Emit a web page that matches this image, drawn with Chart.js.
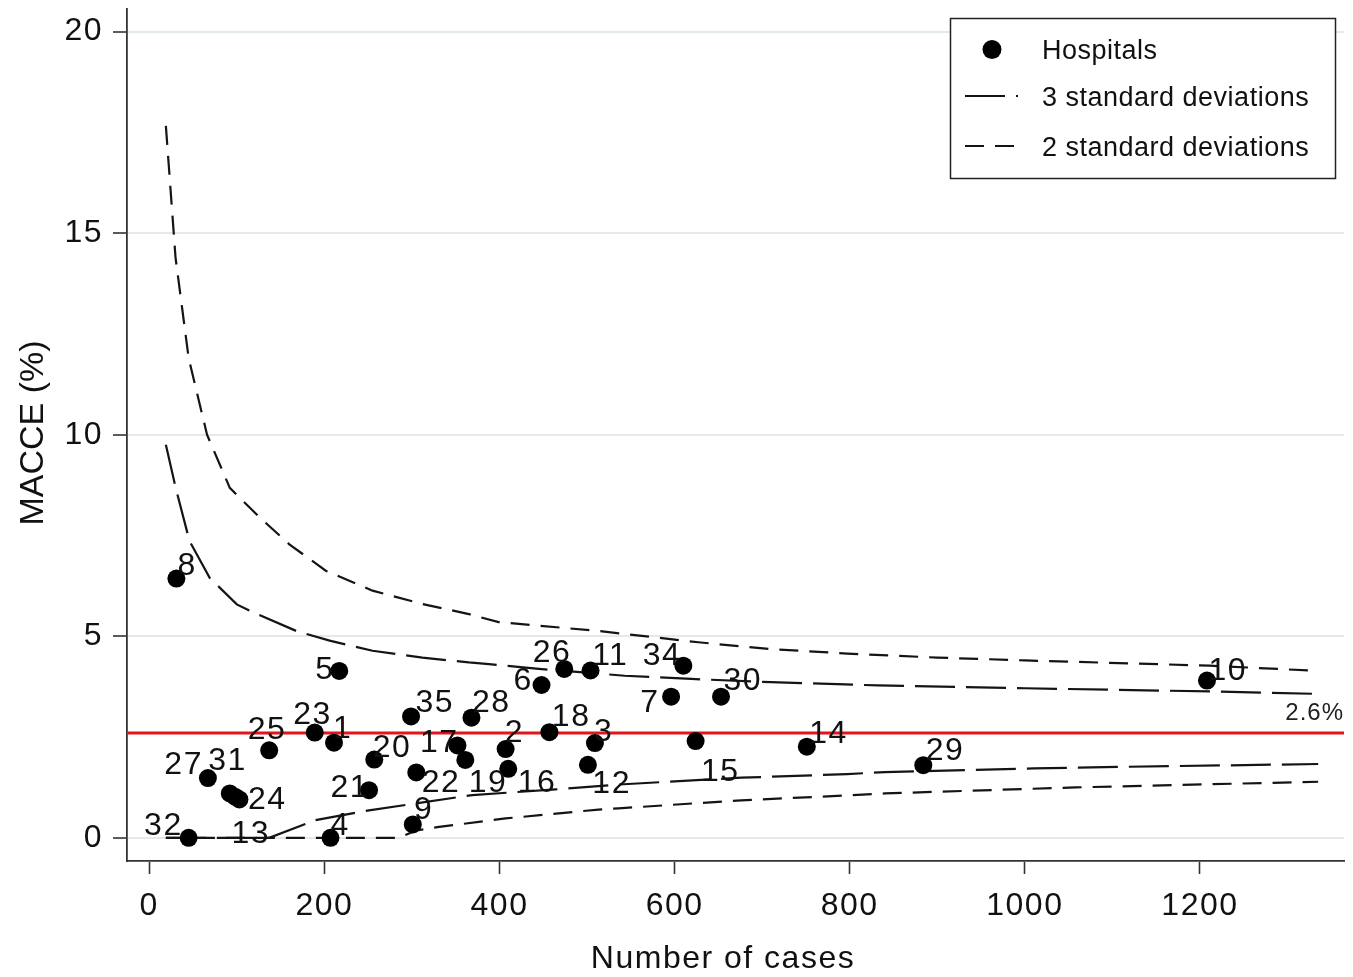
<!DOCTYPE html>
<html>
<head>
<meta charset="utf-8">
<title>MACCE funnel plot</title>
<script src="https://cdn.jsdelivr.net/npm/chart.js@4.4.1/dist/chart.umd.min.js"></script>
<style>
  html, body { margin: 0; padding: 0; background: #ffffff; }
  canvas { display: block; }
</style>
</head>
<body>
<canvas id="funnel" width="1353" height="977"></canvas>
<script>
// ---- Hospital results: number of cases and MACCE rate (%) ----
const hospitalIds   = [1, 2, 3, 4, 5, 6, 7, 8, 9, 10, 11, 12, 13, 14, 15, 16, 17, 18,
                       19, 20, 21, 22, 23, 24, 25, 26, 27, 28, 29, 30, 31, 32, 34, 35];
const hospitalCases = [211, 407, 509, 207, 217, 448, 596, 31, 301, 1208, 504, 501, 98, 751, 624, 410, 352, 457,
                       361, 257, 251, 305, 189, 103, 137, 474, 67, 368, 884, 653, 92, 45, 610, 299];
const hospitalMacce = [2.36, 2.20, 2.35, 0, 4.14, 3.79, 3.50, 6.43, 0.33, 3.90, 4.15, 1.81, 1.02, 2.26, 2.40, 1.71, 2.29, 2.62,
                       1.93, 1.94, 1.18, 1.62, 2.61, 0.95, 2.17, 4.19, 1.48, 2.98, 1.80, 3.50, 1.10, 0, 4.27, 3.01];

// ---- Pooled rate ----
const pooledRate = 2.6;

// ---- Control limits (%), long-dash pair ----
const sd3UpperCases = [19, 30, 46, 69, 100, 115, 168, 206, 255, 312, 365, 388, 445, 543, 619, 710, 832, 1000, 1211, 1335];
const sd3Upper      = [9.75, 8.7, 7.36, 6.45, 5.79, 5.63, 5.13, 4.89, 4.64, 4.47, 4.35, 4.31, 4.19, 4.02, 3.94, 3.86, 3.78, 3.71, 3.63, 3.57];
const sd3LowerCases = [19, 137, 190, 251, 304, 369, 410, 464, 535, 676, 797, 840, 1010, 1112, 1335];
const sd3Lower      = [0, 0, 0.44, 0.68, 0.85, 1.06, 1.12, 1.20, 1.32, 1.49, 1.58, 1.63, 1.72, 1.76, 1.83];

// ---- Control limits (%), short-dash pair ----
const sd2UpperCases = [19, 30, 45, 66, 92, 126, 160, 202, 255, 312, 365, 399, 513, 627, 710, 797, 900, 1000, 1211, 1335];
const sd2Upper      = [17.66, 14.4, 11.9, 10.0, 8.68, 7.95, 7.28, 6.62, 6.13, 5.80, 5.55, 5.35, 5.13, 4.85, 4.68, 4.57, 4.47, 4.40, 4.27, 4.14];
const sd2LowerCases = [19, 285, 305, 331, 407, 513, 536, 676, 797, 840, 1058, 1335];
const sd2Lower      = [0, 0, 0.18, 0.27, 0.48, 0.70, 0.73, 0.93, 1.05, 1.10, 1.25, 1.39];

// ---- Axes ----
const xTicks = [0, 200, 400, 600, 800, 1000, 1200];
const yTicks = [0, 5, 10, 15, 20];
const xRange = [-25.4, 1364.5];
const yRange = [-0.576, 20.56];

// Where each hospital number sits relative to its marker (pixels, label centre)
const labelOffsets = {
  1: [8, -16], 2: [8, -19], 3: [8, -14], 4: [9, -14], 5: [-15, -3], 6: [-19, -6],
  7: [-22, 4], 8: [10, -15], 9: [10, -17], 10: [20, -12], 11: [19, -17], 12: [23, 17],
  13: [15, 35], 14: [21, -15], 15: [24, 29], 16: [28, 12], 17: [-19, -5], 18: [21, -18],
  19: [22, 21], 20: [17, -14], 21: [-20, -5], 22: [24, 8], 23: [-3, -20], 24: [27, -2],
  25: [-3, -23], 26: [-13, -18], 27: [-25, -16], 28: [19, -17], 29: [21, -17], 30: [21, -18],
  31: [-3, -35], 32: [-26, -14], 34: [-22, -12], 35: [23, -16]
};

const FONT = "'Liberation Sans', Arial, Helvetica, sans-serif";
const INK = '#111111';
const AXIS = '#333333';
const LONG_DASH = [40, 11];
const SHORT_DASH = [19, 11];

const toXY = (xs, ys) => xs.map((x, i) => ({ x: x, y: ys[i] }));

const hospitalPoints = hospitalCases.map((n, i) => ({ x: n, y: hospitalMacce[i], id: hospitalIds[i] }));

function curve(label, xs, ys, dash, order) {
  return {
    type: 'line', label: label, data: toXY(xs, ys),
    borderColor: '#141414', borderWidth: 2.2, borderDash: dash,
    pointRadius: 0, fill: false, tension: 0, order: order
  };
}

// Slightly open tracking for all text, in the style of the plot's typeface
const tracking = {
  id: 'tracking',
  beforeDraw(chart) { chart.ctx.letterSpacing = '1.5px'; }
};

// Hospital numbers, the pooled-rate tag, axis titles and the legend box
const annotations = {
  id: 'annotations',
  afterDatasetsDraw(chart) {
    const ctx = chart.ctx;
    const xs = chart.scales.x, ys = chart.scales.y;
    ctx.save();
    ctx.letterSpacing = '1.5px';
    ctx.fillStyle = INK;
    ctx.font = '32px ' + FONT;
    ctx.textAlign = 'center';
    ctx.textBaseline = 'alphabetic';
    hospitalPoints.forEach(p => {
      const off = labelOffsets[p.id] || [20, -15];
      const px = xs.getPixelForValue(p.x) + off[0];
      const py = ys.getPixelForValue(p.y) + off[1];
      ctx.fillText(String(p.id), px + 0.75, py + 0.358 * 32);
    });
    // pooled rate tag at the right end of the reference line
    ctx.font = '24px ' + FONT;
    ctx.letterSpacing = '1px';
    ctx.textAlign = 'right';
    ctx.fillStyle = '#222222';
    ctx.fillText(pooledRate.toFixed(1) + '%', chart.chartArea.right, ys.getPixelForValue(pooledRate) - 13);
    ctx.restore();
  },
  afterDraw(chart) {
    const ctx = chart.ctx;
    ctx.save();
    ctx.fillStyle = INK;
    // axis titles
    ctx.letterSpacing = '1.5px';
    ctx.font = '32px ' + FONT;
    ctx.textAlign = 'center';
    ctx.textBaseline = 'alphabetic';
    ctx.fillText('Number of cases', 723, 968);
    ctx.save();
    ctx.letterSpacing = '0px';
    ctx.translate(43, 433);
    ctx.rotate(-Math.PI / 2);
    ctx.font = '34px ' + FONT;
    ctx.fillText('MACCE (%)', 0, 0);
    ctx.restore();

    // legend
    const bx = 950.5, by = 18.5, bw = 385, bh = 160;
    ctx.fillStyle = '#ffffff';
    ctx.fillRect(bx, by, bw, bh);
    ctx.strokeStyle = '#222222';
    ctx.lineWidth = 1.5;
    ctx.setLineDash([]);
    ctx.strokeRect(bx, by, bw, bh);

    ctx.fillStyle = '#000000';
    ctx.beginPath();
    ctx.arc(992, 49.5, 9.5, 0, Math.PI * 2);
    ctx.fill();

    ctx.strokeStyle = '#141414';
    ctx.lineWidth = 2.2;
    ctx.setLineDash(LONG_DASH);
    ctx.beginPath(); ctx.moveTo(965, 96); ctx.lineTo(1018, 96); ctx.stroke();
    ctx.setLineDash(SHORT_DASH);
    ctx.beginPath(); ctx.moveTo(965, 146); ctx.lineTo(1015, 146); ctx.stroke();
    ctx.setLineDash([]);

    ctx.fillStyle = INK;
    ctx.letterSpacing = '0.5px';
    ctx.font = '27px ' + FONT;
    ctx.textAlign = 'left';
    ctx.fillText('Hospitals', 1042, 59);
    ctx.fillText('3 standard deviations', 1042, 105.5);
    ctx.fillText('2 standard deviations', 1042, 155.5);
    ctx.restore();
  }
};

new Chart(document.getElementById('funnel'), {
  type: 'scatter',
  data: {
    datasets: [
      {
        label: 'Hospitals', data: hospitalPoints,
        backgroundColor: '#000000', borderWidth: 0,
        pointRadius: 9, pointHoverRadius: 9, order: 0
      },
      curve('3 standard deviations', sd3UpperCases, sd3Upper, LONG_DASH, 2),
      curve('3 standard deviations', sd3LowerCases, sd3Lower, LONG_DASH, 2),
      curve('2 standard deviations', sd2UpperCases, sd2Upper, SHORT_DASH, 2),
      curve('2 standard deviations', sd2LowerCases, sd2Lower, SHORT_DASH, 2),
      {
        type: 'line', label: 'Pooled rate',
        data: [{ x: xRange[0], y: pooledRate }, { x: xRange[1], y: pooledRate }],
        borderColor: '#e2151c', borderWidth: 3, pointRadius: 0, order: 3
      }
    ]
  },
  options: {
    responsive: false,
    animation: false,
    events: [],
    layout: { padding: { top: 6, right: 0, left: 0, bottom: 0 } },
    plugins: { legend: { display: false }, tooltip: { enabled: false } },
    scales: {
      x: {
        type: 'linear', min: xRange[0], max: xRange[1],
        afterBuildTicks(s) { s.ticks = xTicks.map(v => ({ value: v })); },
        afterFit(s) { s.height = 116; s.paddingLeft = 0; s.paddingRight = 0; },
        ticks: {
          font: { family: FONT, size: 32 }, color: INK, padding: 13, maxRotation: 0, autoSkip: false,
          callback: v => String(v)
        },
        grid: { drawOnChartArea: false, drawTicks: true, tickLength: 13, tickColor: AXIS, tickWidth: 1.6 },
        border: { display: true, color: AXIS, width: 1.8 }
      },
      y: {
        type: 'linear', min: yRange[0], max: yRange[1],
        afterBuildTicks(s) { s.ticks = yTicks.map(v => ({ value: v })); },
        afterFit(s) { s.width = 127; s.paddingTop = 0; s.paddingBottom = 0; },
        ticks: {
          font: { family: FONT, size: 32 }, color: INK, padding: 10, autoSkip: false,
          callback: v => String(v)
        },
        grid: { color: '#e2eaee', lineWidth: 2, drawTicks: true, tickLength: 14, tickColor: AXIS, tickWidth: 1.6 },
        border: { display: true, color: AXIS, width: 1.8 }
      }
    }
  },
  plugins: [tracking, annotations]
});
</script>
</body>
</html>
